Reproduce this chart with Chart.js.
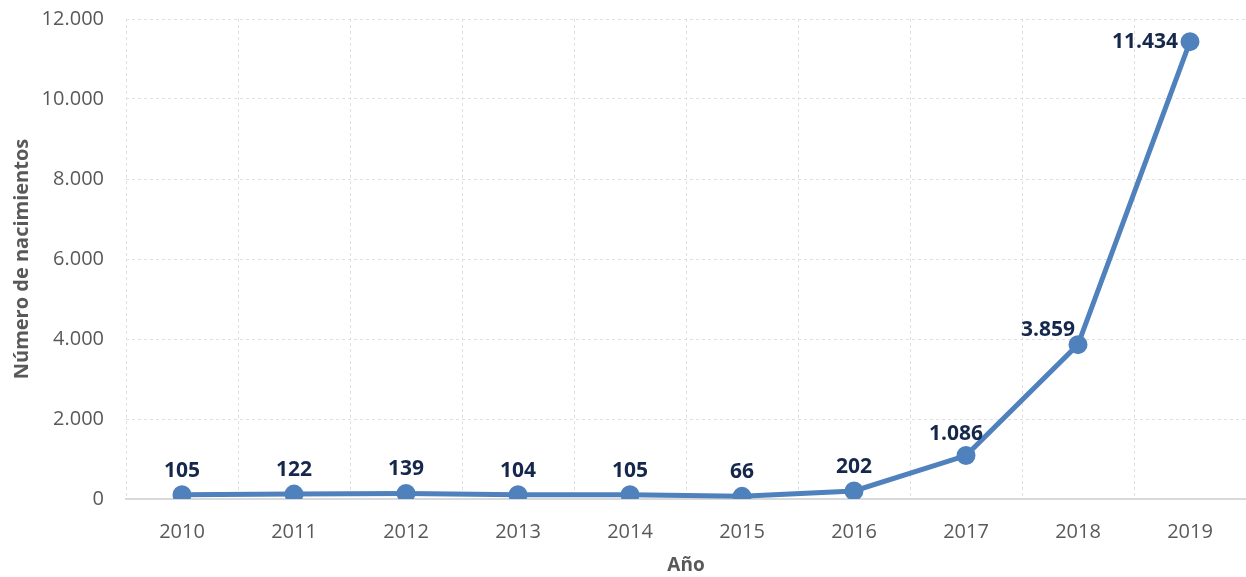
<!DOCTYPE html>
<html>
<head>
<meta charset="utf-8">
<script src="https://cdn.jsdelivr.net/npm/chart.js@4.4.1/dist/chart.umd.min.js"></script>
<style>
  html, body { margin: 0; padding: 0; background: #fff; }
  #wrap { width: 1246px; height: 577px; position: relative; }
</style>
</head>
<body>
<div id="wrap"><canvas id="myChart"></canvas></div>
<script>
const years = ["2010", "2011", "2012", "2013", "2014", "2015", "2016", "2017", "2018", "2019"];
const nacimientos = [105, 122, 139, 104, 105, 66, 202, 1086, 3859, 11434];
const yTicks = [0, 2000, 4000, 6000, 8000, 10000, 12000];

// where each value label sits relative to its point
const labelPlace = ["top", "top", "top", "top", "top", "top", "top", "topleft", "topleft", "left"];

const fmt = (v) => v.toLocaleString("de-DE");

const valueLabels = {
  id: "valueLabels",
  afterDatasetsDraw(chart) {
    const ctx = chart.ctx;
    const meta = chart.getDatasetMeta(0);
    ctx.save();
    ctx.font = "bold 21px 'Open Sans'";
    ctx.fillStyle = "#15284b";
    meta.data.forEach((pt, i) => {
      const txt = fmt(nacimientos[i]);
      const place = labelPlace[i];
      if (place === "top") {
        ctx.textAlign = "center";
        ctx.textBaseline = "middle";
        ctx.fillText(txt, pt.x, pt.y - 24);
      } else if (place === "topleft") {
        ctx.textAlign = "right";
        ctx.textBaseline = "middle";
        ctx.fillText(txt, pt.x + (i === 7 ? 17 : -3), pt.y - (i === 7 ? 22 : 15));
      } else {
        ctx.textAlign = "right";
        ctx.textBaseline = "middle";
        ctx.fillText(txt, pt.x - 12, pt.y);
      }
    });
    ctx.restore();
  }
};

const ctx = document.getElementById("myChart").getContext("2d");
new Chart(ctx, {
  type: "line",
  data: {
    labels: years,
    datasets: [{
      label: "Número de nacimientos",
      data: nacimientos,
      borderColor: "#4f81bd",
      backgroundColor: "#4f81bd",
      borderWidth: 5,
      pointRadius: 7,
      pointHoverRadius: 7,
      fill: false,
      tension: 0,
    }]
  },
  options: {
    responsive: true,
    maintainAspectRatio: false,
    animation: false,
    layout: { autoPadding: false, padding: { top: 19, right: 0, left: 0, bottom: 0 } },
    plugins: {
      legend: { display: false },
      tooltip: { enabled: false },
    },
    scales: {
      x: {
        offset: true,
        grid: {
          offset: true,
          color: "#e0e0e0",
          lineWidth: 1,
          drawTicks: false,
        },
        border: { display: true, color: "#d9d9d9", width: 2, dash: [3, 3] },
        ticks: {
          color: "#595959",
          font: { family: "'Open Sans'", size: 20 },
          padding: 21,
        },
        title: {
          display: true,
          text: "Año",
          color: "#595959",
          font: { family: "'Open Sans'", size: 19, weight: "bold" },
          padding: { top: 6, bottom: 0 },
        },
        afterFit(scale) {
          scale.height = 78;
          scale.paddingLeft = 0;
          scale.paddingRight = 0;
        },
      },
      y: {
        min: 0,
        max: 12000,
        afterBuildTicks(scale) { scale.ticks = yTicks.map(v => ({ value: v })); },
        grid: {
          color: "#e0e0e0",
          lineWidth: 1,
          drawTicks: false,
        },
        border: { display: false, dash: [3, 3] },
        ticks: {
          color: "#595959",
          font: { family: "'Open Sans'", size: 20 },
          padding: 22,
          callback: (v) => fmt(v),
        },
        title: {
          display: true,
          text: "Número de nacimientos",
          color: "#595959",
          font: { family: "'Open Sans'", size: 20, weight: "bold" },
          padding: { top: 10, bottom: 0 },
        },
        afterFit(scale) {
          scale.width = 126;
          scale.paddingTop = 0;
          scale.paddingBottom = 0;
        },
      }
    }
  },
  plugins: [valueLabels]
});
</script>
</body>
</html>
